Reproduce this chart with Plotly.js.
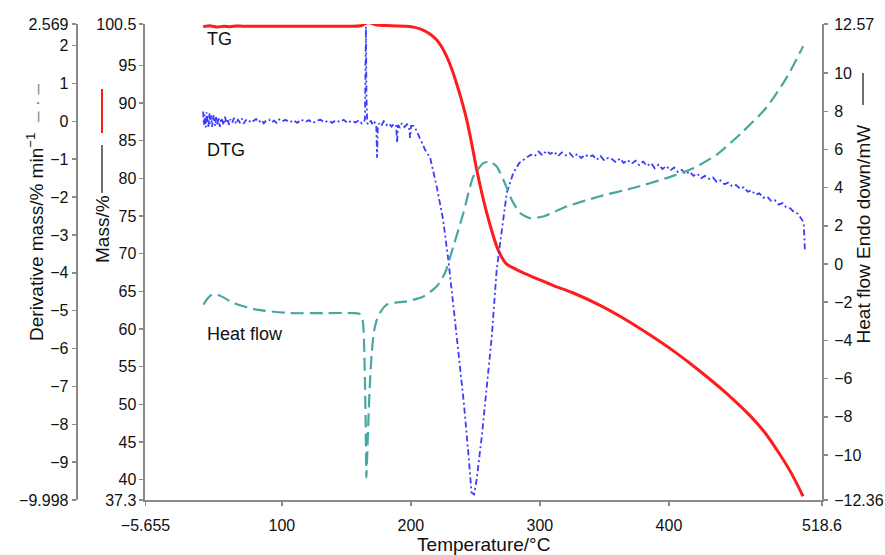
<!DOCTYPE html>
<html>
<head>
<meta charset="utf-8">
<script src="https://cdn.plot.ly/plotly-3.0.1.min.js"></script>
<style>html,body{margin:0;padding:0;background:#fff;}#chart{width:885px;height:555px;}</style>
</head>
<body>
<div id="chart"></div>
<script>
// ---- Data ----
const tgX = [39, 45, 50, 55, 60, 65, 70, 80, 90, 100, 120, 140, 155, 162, 164, 166, 168.4, 171, 173.6, 180,
  190, 196.8, 203, 209.5, 215, 220.06, 223.93, 227.81, 231.68, 235.55, 239.43, 243.3, 247.17, 251.05, 254.92, 258.79,
  262.67, 266.54, 270.41, 274.29, 279, 284.6, 290, 297.5, 310, 325, 346.6, 365, 385.4, 405, 424.1, 445,
  462.8, 475, 486.1, 495, 503.9];
const tgY = [100.15, 100.25, 100.1, 100.2, 100.15, 100.25, 100.2, 100.2, 100.2, 100.2, 100.2, 100.2, 100.2, 100.3, 100.5, 100.65, 100.65, 100.5, 100.35, 100.3,
  100.25, 100.2, 100.05, 99.7, 99.15, 98.38, 97.45, 96.16, 94.53, 92.54, 90.29, 87.77, 84.59, 81.14, 78.09, 75.43,
  73.05, 70.97, 69.54, 68.61, 68.15, 67.65, 67.25, 66.7, 65.8, 64.85, 63.15, 61.4, 59.2, 56.9, 54.4, 51.4,
  48.5, 46.1, 43.3, 40.8, 37.8];

const dtgX = [39, 39.6, 40.3, 41, 41.7, 42.4, 43.1, 43.8, 44.5, 45.2,
  46, 46.8, 47.6, 48.4, 49.2, 50, 51, 52, 53, 54,
  55, 56, 57, 58, 59, 60, 61.5, 63, 64.5, 66,
  67.5, 69, 70.5, 72, 74, 76, 78, 80, 82, 84,
  86, 88, 90, 92, 94, 96, 98, 100, 103, 106,
  109, 112, 115, 118, 121, 124, 127, 130, 133, 136,
  139, 142, 145, 148, 151, 154, 157, 160, 162, 163.8,
  164.4, 164.8, 165.2, 165.6, 166.2, 167.5, 169, 170.5, 172, 173.2,
  173.8, 174.4, 175.5, 177, 179, 181, 183, 185, 187, 188.6,
  189.3, 190, 191.5, 193, 195, 197, 198.7, 199.4, 200.2, 202,
  204, 207, 211, 215, 220, 225, 229, 233, 237, 241,
  244.5, 247, 249, 251, 255, 259, 262.7, 266.5, 270.4, 274.3,
  279.4, 284,
  290, 293, 296, 299, 302, 305, 308, 311, 314, 317,
  320, 323, 326, 329, 332, 335, 338, 341, 344, 347,
  350, 353, 356, 359, 362, 365, 368, 371, 374, 377,
  380, 383, 386, 389, 392, 395, 398, 401, 404, 407,
  410, 413, 416, 419, 422, 425, 428, 431, 434, 437,
  440, 443, 446, 449, 452, 455, 458, 461, 464, 467,
  470, 473, 476, 479, 482, 485, 488, 491, 494, 497,
  500, 502, 503.5, 504.5, 505, 505.4];
const dtgY = [0.26, -0.10, 0.18, -0.16, 0.24, 0.02, -0.18, 0.22, -0.06, 0.15,
  -0.15, 0.17, -0.02, -0.12, 0.14, -0.08, 0.10, -0.15, 0.09, 0.00,
  -0.10, 0.12, -0.05, 0.07, -0.09, 0.05, -0.04, 0.09, -0.07, 0.04,
  -0.03, 0.07, -0.06, 0.03, 0.05, -0.04, 0.02, 0.06, -0.03, 0.04,
  -0.05, 0.03, 0.05, -0.03, 0.02, -0.04, 0.05, 0.00, 0.04, -0.03,
  0.03, -0.04, 0.05, -0.02, 0.03, -0.05, 0.02, 0.04, -0.03, 0.02,
  -0.04, 0.03, -0.02, 0.04, -0.05, 0.02, -0.03, 0.03, -0.06, 0.00,
  0.05, 0.9, 2.5, 0.6, -0.05, -0.08, 0.02, -0.10, -0.03, -0.12,
  -0.96, -0.15, -0.05, -0.12, 0.00, -0.10, -0.05, -0.14, -0.06, -0.12,
  -0.57, -0.10, -0.16, -0.05, -0.15, -0.08, -0.20, -0.44, -0.12, -0.12,
  -0.22, -0.45, -0.75, -0.97, -1.72, -2.60, -3.65, -4.89, -6.11, -7.42,
  -8.74, -9.80, -9.85, -9.45, -8.31, -6.99, -5.68, -3.92, -2.86, -1.89,
  -1.36, -1.10,
  -0.95, -0.88, -0.92, -0.80, -0.90, -0.78, -0.86, -0.80, -0.92, -0.82,
  -0.90, -0.84, -0.95, -0.86, -0.97, -0.88, -0.94, -0.90, -1.02, -0.92,
  -1.04, -0.96, -1.00, -1.08, -0.98, -1.10, -1.02, -1.12, -1.04, -1.16,
  -1.06, -1.18, -1.10, -1.24, -1.14, -1.26, -1.18, -1.30, -1.22, -1.34,
  -1.28, -1.40, -1.32, -1.44, -1.38, -1.50, -1.44, -1.52, -1.48, -1.60,
  -1.56, -1.66, -1.62, -1.72, -1.68, -1.78, -1.74, -1.86, -1.82, -1.94,
  -1.90, -2.02, -1.98, -2.10, -2.08, -2.20, -2.16, -2.28, -2.30, -2.40,
  -2.44, -2.54, -2.62, -2.75, -3.05, -3.43];

const hfX = [39.3, 42, 45.8, 52.2, 62.5, 80.6, 106.4, 132, 155.5, 160,
  162, 163.2, 164, 164.5, 165, 165.5, 166.2, 167.1, 168.3, 169.7,
  171.5, 173.6, 177, 181.3, 188, 196.8, 209.7, 220.1, 226.5, 232.9,
  240.7, 248.4, 256.2, 261.4, 266.5, 271.7, 278.1, 284.6, 292.3, 302.6,
  320.7, 346.6, 372.3, 398.2, 418.8, 436.9, 457.5, 475.6, 491.1, 504];
const hfY = [-2.13, -1.85, -1.61, -1.66, -2.04, -2.39, -2.57, -2.57, -2.57, -2.6,
  -2.74, -3.27, -4.8, -6.41, -8.5, -11.18, -9.9, -8.15, -6.2, -4.64,
  -3.5, -2.92, -2.45, -2.13, -2.02, -1.96, -1.70, -1.17, -0.46, 0.92,
  2.67, 4.58, 5.28, 5.37, 5.11, 4.41, 3.37, 2.67, 2.40, 2.49,
  3.01, 3.55, 3.98, 4.50, 5.02, 5.72, 6.95, 8.2, 9.75, 11.4];

// ---- Ticks ----
const xTickVals = [-5.655, 100, 200, 300, 400, 518.6];
const xTickText = ['\u22125.655', '100', '200', '300', '400', '518.6'];
const massTickVals = [37.3, 40, 45, 50, 55, 60, 65, 70, 75, 80, 85, 90, 95, 100.5];
const massTickText = ['37.3', '40', '45', '50', '55', '60', '65', '70', '75', '80', '85', '90', '95', '100.5'];
const dtgTickVals = [-9.998, -9, -8, -7, -6, -5, -4, -3, -2, -1, 0, 1, 2, 2.569];
const dtgTickText = ['\u22129.998', '\u22129', '\u22128', '\u22127', '\u22126', '\u22125', '\u22124', '\u22123', '\u22122', '\u22121', '0', '1', '2', '2.569'];
const hfTickVals = [-12.36, -10, -8, -6, -4, -2, 0, 2, 4, 6, 8, 10, 12.57];
const hfTickText = ['\u221212.36', '\u221210', '\u22128', '\u22126', '\u22124', '\u22122', '0', '2', '4', '6', '8', '10', '12.57'];

const RED = '#ff1c1c', BLUE = '#3c3cff', TEAL = '#46a8a0', AX = '#8a8a8a';

const traces = [
  {x: hfX, y: hfY, yaxis: 'y3', type: 'scatter', mode: 'lines', name: 'Heat flow',
   line: {color: TEAL, width: 2.2, dash: '13px,6px', shape: 'spline', smoothing: 0.6}},
  {x: dtgX, y: dtgY, yaxis: 'y2', type: 'scatter', mode: 'lines', name: 'DTG',
   line: {color: BLUE, width: 1.8, dash: '6px,3px,2px,3px'}},
  {x: tgX, y: tgY, yaxis: 'y', type: 'scatter', mode: 'lines', name: 'TG',
   line: {color: RED, width: 3, shape: 'spline', smoothing: 0.8}}
];

const axisCommon = {showline: true, linecolor: AX, linewidth: 2, ticks: 'outside', ticklen: 4,
  tickcolor: AX, tickwidth: 1.5, showgrid: false, zeroline: false, tickfont: {size: 16, color: '#111'}};

const FONT = 'Liberation Sans, Arial, Helvetica, sans-serif';

const layout = {
  width: 885, height: 555,
  margin: {l: 60, r: 63, t: 24, b: 55, pad: 0},
  paper_bgcolor: '#ffffff', plot_bgcolor: '#ffffff',
  font: {family: FONT, size: 16, color: '#111'},
  showlegend: false,
  xaxis: Object.assign({}, axisCommon, {domain: [0.1122, 1], range: [-5.655, 518.6],
    tickmode: 'array', tickvals: xTickVals, ticktext: xTickText, ticklabelstandoff: 6,
    title: {text: 'Temperature/°C', font: {size: 19, color: '#111'}, standoff: 8}}),
  yaxis: Object.assign({}, axisCommon, {range: [37.3, 100.5], anchor: 'x',
    tickmode: 'array', tickvals: massTickVals, ticktext: massTickText}),
  yaxis2: Object.assign({}, axisCommon, {range: [-9.998, 2.569], overlaying: 'y', anchor: 'free',
    position: 0.0219, side: 'left', tickmode: 'array', tickvals: dtgTickVals, ticktext: dtgTickText}),
  yaxis3: Object.assign({}, axisCommon, {range: [-12.36, 12.57], overlaying: 'y', anchor: 'x',
    side: 'right', tickmode: 'array', tickvals: hfTickVals, ticktext: hfTickText, ticklabelstandoff: 3}),
  annotations: [
    {xref: 'paper', yref: 'paper', x: 0.1903, y: 0.9695, xanchor: 'left', yanchor: 'middle',
     text: 'TG', showarrow: false, font: {size: 18, color: '#111'}},
    {xref: 'paper', yref: 'paper', x: 0.1903, y: 0.7353, xanchor: 'left', yanchor: 'middle',
     text: 'DTG', showarrow: false, font: {size: 18, color: '#111'}},
    {xref: 'paper', yref: 'paper', x: 0.1903, y: 0.3487, xanchor: 'left', yanchor: 'middle',
     text: 'Heat flow', showarrow: false, font: {size: 18, color: '#111'}},
    {xref: 'paper', yref: 'paper', x: -0.0328, y: 0.603, xanchor: 'center', yanchor: 'middle',
     textangle: -90, showarrow: false, font: {size: 19, color: '#111'},
     text: 'Derivative mass/% min<sup>\u22121</sup>  <span style="color:#8a8a8a">\u2013 \u00b7 \u2013</span>'},
    {xref: 'paper', yref: 'paper', x: 0.0551, y: 0.5693, xanchor: 'center', yanchor: 'middle',
     textangle: -90, showarrow: false, font: {size: 19, color: '#111'}, text: 'Mass/%'},
    {xref: 'paper', yref: 'paper', x: 1.0538, y: 0.560, xanchor: 'center', yanchor: 'middle',
     textangle: -90, showarrow: false, font: {size: 19, color: '#111'}, text: 'Heat flow Endo down/mW'}
  ],
  shapes: [
    {type: 'line', xref: 'paper', yref: 'paper', x0: 0.0551, x1: 0.0551, y0: 0.645, y1: 0.7458,
     line: {color: '#6e6e6e', width: 2}},
    {type: 'line', xref: 'paper', yref: 'paper', x0: 0.0551, x1: 0.0551, y0: 0.771, y1: 0.8634,
     line: {color: RED, width: 2}},
    {type: 'line', xref: 'paper', yref: 'paper', x0: 1.0538, x1: 1.0538, y0: 0.830, y1: 0.897,
     line: {color: '#6e6e6e', width: 2}}
  ]
};

Plotly.newPlot('chart', traces, layout, {displayModeBar: false, staticPlot: true});
</script>
</body>
</html>
